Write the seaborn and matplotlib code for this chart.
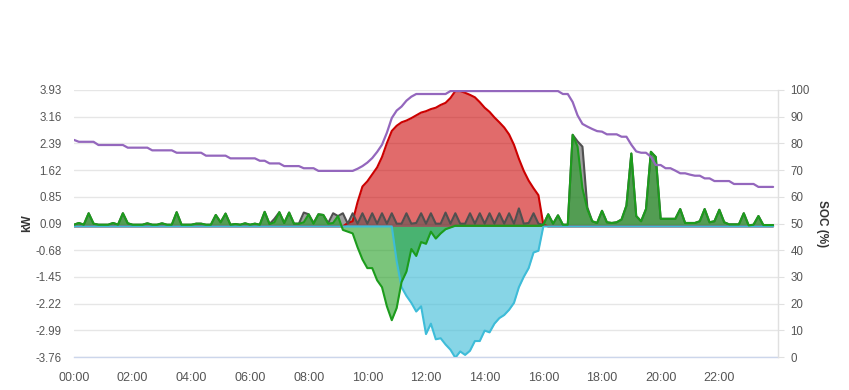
import numpy as np
import pandas as pd
import matplotlib
matplotlib.use("Agg")
import matplotlib.pyplot as plt
import seaborn as sns

# ---------------- data (10-minute samples, 00:00 .. 23:50) ----------------
hours = np.arange(144) / 6.0

solar = [0.0] * 56 + [
    0.10, 0.15, 0.70, 1.15,
    1.30, 1.50, 1.70, 2.00, 2.40, 2.75,
    2.90, 3.00, 3.05, 3.12, 3.20, 3.28,
    3.32, 3.38, 3.42, 3.50, 3.56, 3.70,
    3.90, 3.90, 3.85, 3.79, 3.72, 3.58,
    3.42, 3.30, 3.14, 3.00, 2.85, 2.65,
    2.35, 1.95, 1.60, 1.32, 1.10, 0.90,
    0.05] + [0.0] * 47

grid = [
    0.05, 0.10, 0.05, 0.38, 0.08, 0.05,
    0.05, 0.05, 0.10, 0.05, 0.38, 0.09,
    0.05, 0.05, 0.05, 0.09, 0.05, 0.05,
    0.09, 0.05, 0.05, 0.41, 0.05, 0.05,
    0.05, 0.08, 0.08, 0.05, 0.05, 0.33,
    0.12, 0.37, 0.05, 0.07, 0.05, 0.09,
    0.05, 0.08, 0.05, 0.42, 0.07, 0.12,
    0.41, 0.10, 0.40, 0.08, 0.08, 0.12,
    0.35, 0.08, 0.35, 0.33, 0.08, 0.10,
    0.30, -0.10, -0.15, -0.20, -0.60, -0.95,
    -1.20, -1.20, -1.55, -1.75, -2.30, -2.70,
    -2.35, -1.60, -1.30, -0.65, -0.85, -0.45,
    -0.50, -0.15, -0.35, -0.20, -0.08, -0.03,
    0.02, 0.02, 0.02, 0.02, 0.02, 0.02,
    0.02, 0.02, 0.02, 0.02, 0.02, 0.02,
    0.02, 0.02, 0.02, 0.02, 0.02, 0.02,
    0.05, 0.35, 0.08, 0.32, 0.05, 0.05,
    2.64, 2.30, 1.10, 0.50, 0.15, 0.10,
    0.45, 0.12, 0.10, 0.12, 0.20, 0.60,
    2.10, 0.30, 0.15, 0.50, 2.15, 2.00,
    0.22, 0.22, 0.22, 0.22, 0.50, 0.10,
    0.10, 0.10, 0.15, 0.50, 0.12, 0.15,
    0.48, 0.12, 0.06, 0.06, 0.06, 0.38,
    0.03, 0.05, 0.30, 0.04, 0.04, 0.04,
]

load = [
    0.05, 0.10, 0.05, 0.38, 0.08, 0.05,
    0.05, 0.05, 0.10, 0.05, 0.38, 0.09,
    0.05, 0.05, 0.05, 0.09, 0.05, 0.05,
    0.09, 0.05, 0.05, 0.41, 0.05, 0.05,
    0.05, 0.08, 0.08, 0.05, 0.05, 0.33,
    0.12, 0.37, 0.05, 0.07, 0.05, 0.09,
    0.05, 0.08, 0.05, 0.42, 0.07, 0.22,
    0.41, 0.10, 0.40, 0.08, 0.08, 0.40,
    0.35, 0.10, 0.35, 0.33, 0.10, 0.38,
    0.30, 0.38, 0.08, 0.38, 0.08, 0.38,
    0.08, 0.38, 0.08, 0.38, 0.08, 0.38,
    0.08, 0.08, 0.38, 0.08, 0.10, 0.38,
    0.08, 0.38, 0.08, 0.08, 0.40, 0.08,
    0.38, 0.08, 0.08, 0.38, 0.08, 0.38,
    0.08, 0.38, 0.08, 0.38, 0.08, 0.38,
    0.08, 0.52, 0.08, 0.10, 0.38, 0.08,
    0.05, 0.35, 0.08, 0.32, 0.05, 0.05,
    2.64, 2.45, 2.30, 0.55, 0.15, 0.10,
    0.45, 0.12, 0.10, 0.12, 0.20, 0.60,
    2.10, 0.30, 0.15, 0.50, 2.15, 2.00,
    0.22, 0.22, 0.22, 0.22, 0.50, 0.10,
    0.10, 0.10, 0.15, 0.50, 0.12, 0.15,
    0.48, 0.12, 0.06, 0.06, 0.06, 0.38,
    0.03, 0.05, 0.30, 0.04, 0.04, 0.04,
]

battery = [0.0] * 66 + [
    -1.00, -1.75, -2.00, -2.20, -2.45, -2.30,
    -3.10, -2.80, -3.25, -3.22, -3.40, -3.55,
    -3.78, -3.60, -3.70, -3.58, -3.30, -3.30,
    -3.00, -3.05, -2.80, -2.64, -2.55, -2.40,
    -2.20, -1.75, -1.45, -1.20, -0.75, -0.70,
    0.0] + [0.0] * 47

soc = [
    81.3, 80.6, 80.6, 80.6, 80.6, 79.4,
    79.4, 79.4, 79.4, 79.4, 79.4, 78.4,
    78.4, 78.4, 78.4, 78.4, 77.4, 77.4,
    77.4, 77.4, 77.4, 76.5, 76.5, 76.5,
    76.5, 76.5, 76.5, 75.4, 75.4, 75.4,
    75.4, 75.4, 74.4, 74.4, 74.4, 74.4,
    74.4, 74.4, 73.5, 73.5, 72.5, 72.5,
    72.5, 71.5, 71.5, 71.5, 71.5, 70.7,
    70.7, 70.7, 69.7, 69.7, 69.7, 69.7,
    69.7, 69.7, 69.7, 69.7, 70.5, 71.5,
    72.8, 74.5, 76.8, 79.5, 84.0, 89.5,
    92.3, 93.8, 96.0, 97.5, 98.5, 98.5,
    98.5, 98.5, 98.5, 98.5, 98.5, 99.6,
    99.6, 99.6, 99.6, 99.6, 99.6, 99.6,
    99.6, 99.6, 99.6, 99.6, 99.6, 99.6,
    99.6, 99.6, 99.6, 99.6, 99.6, 99.6,
    99.6, 99.6, 99.6, 99.6, 98.5, 98.5,
    95.5, 90.5, 87.3, 86.3, 85.4, 84.6,
    84.4, 83.4, 83.4, 83.4, 82.5, 82.5,
    79.5, 77.0, 76.5, 76.5, 75.0, 71.9,
    71.9, 70.7, 70.7, 69.8, 68.8, 68.8,
    68.3, 67.9, 67.9, 66.9, 66.9, 65.9,
    65.9, 65.9, 65.9, 64.8, 64.8, 64.8,
    64.8, 64.8, 63.7, 63.7, 63.7, 63.7,
]

x_ticks = [0, 2, 4, 6, 8, 10, 12, 14, 16, 18, 20, 22]
x_labels = ["00:00", "02:00", "04:00", "06:00", "08:00", "10:00",
            "12:00", "14:00", "16:00", "18:00", "20:00", "22:00"]
kw_labels = ["-3.76", "-2.99", "-2.22", "-1.45", "-0.68", "0.09",
             "0.85", "1.62", "2.39", "3.16", "3.93"]
soc_ticks = [0, 10, 20, 30, 40, 50, 60, 70, 80, 90, 100]

df = pd.DataFrame({"t": hours, "solar": solar, "grid": grid, "load": load,
                   "battery": battery, "soc": soc})

# ---------------- plotting ----------------
sns.set_style("white")
plt.rcParams["font.family"] = ["Liberation Sans", "DejaVu Sans"]

fig = plt.figure(figsize=(8.49, 3.9), dpi=100)
ax = fig.add_axes([74 / 849, 33 / 390, (778 - 74) / 849, (357 - 90) / 390])

series = [
    ("solar", "#cc0000", 0.58),
    ("load", "#505050", 0.55),
    ("battery", "#3ebcd8", 0.62),
    ("grid", "#1c9c1c", 0.58),
]
for col, color, alpha in series:
    ax.fill_between(df["t"], 0, df[col], color=color, alpha=alpha, lw=0, zorder=2)
    sns.lineplot(data=df, x="t", y=col, ax=ax, color=color, linewidth=1.5,
                 zorder=3)

ax.set_xlim(0, 24)
ax.set_ylim(-3.76, 3.93)
ax.set_yticks(np.linspace(-3.76, 3.93, 11))
ax.set_yticklabels(kw_labels)
ax.set_xticks(x_ticks)
ax.set_xticklabels(x_labels)
ax.set_xlabel("")
ax.set_ylabel("")
ax.grid(axis="y", color="#e6e6e6", linewidth=1)
ax.grid(axis="x", visible=False)
ax.set_axisbelow(True)
for s in ["top", "left", "right"]:
    ax.spines[s].set_visible(False)
ax.spines["bottom"].set_color("#ccd6eb")
ax.spines["bottom"].set_linewidth(1)
ax.tick_params(axis="x", length=6, color="#ccd6eb", labelsize=9,
               labelcolor="#555555", pad=5)
ax.tick_params(axis="y", length=0, labelsize=8.3, labelcolor="#555555", pad=9)

ax2 = ax.twinx()
sns.lineplot(data=df, x="t", y="soc", ax=ax2, color="#9467bd", linewidth=1.6,
             zorder=5)
ax2.set_ylim(0, 100)
ax2.set_yticks(soc_ticks)
ax2.set_ylabel("")
ax2.set_xlim(0, 24)
for s in ["top", "left", "bottom"]:
    ax2.spines[s].set_visible(False)
ax2.spines["right"].set_color("#e0e0e0")
ax2.spines["right"].set_linewidth(1)
ax2.tick_params(axis="y", length=4, color="#e0e0e0", labelsize=8.3,
                labelcolor="#555555", pad=5)

fig.text(27 / 849, 1 - 223.5 / 390, "kW", rotation=90, ha="center",
         va="center", fontsize=8.5, fontweight="bold", color="#333333")
fig.text(822 / 849, 1 - 223.5 / 390, "SOC (%)", rotation=270, ha="center",
         va="center", fontsize=8.5, fontweight="bold", color="#333333")

fig.savefig("out.png", dpi=100)
